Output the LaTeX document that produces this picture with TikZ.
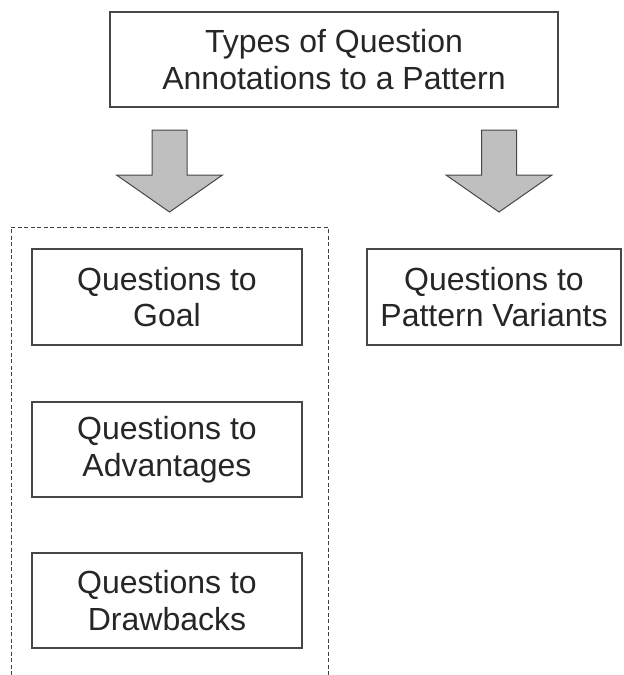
\documentclass[tikz,border=0pt]{standalone}
\usepackage{fontspec}
\setmainfont{Liberation Sans}
\begin{document}
\begin{tikzpicture}[x=1pt, y=-1pt]
  \tikzset{
  qbox/.style={draw=black!72, line width=1.1pt, fill=white, align=center,
    inner sep=0pt, text=black!85, font=\fontsize{32}{36.5}\selectfont},
  group_frame/.style={draw=black!75, line width=0.8pt, dash pattern=on 4pt off 2.5pt},
  down_arrow/.pic={
    % block arrow, tip at origin
    \filldraw[fill=black!25, draw=black!72, line width=1pt]
      (-17.5,-82) -- (17.5,-82) -- (17.5,-37) -- (53,-37)
      -- (0,0) -- (-53,-37) -- (-17.5,-37) -- cycle;

    % characteristic coordinates of arrow
    \coordinate (-tip) at (0,0);
    \coordinate (-top) at (0,-82);
  }
}
  \useasboundingbox (0,0) rectangle (624,675);

  % title
  \node[qbox, minimum width=448pt, minimum height=95pt] (types) at (334,59.5)
    {Types of Question\\Annotations to a Pattern};

  % arrows
  \pic (arr_left) at (169.5,212) {down_arrow};
  \pic (arr_right) at (499,212) {down_arrow};

  % group of questions
  \coordinate (frame_bl) at (11,675);
  \coordinate (frame_tr) at (328,227);
  \draw[group_frame] (frame_bl) |- (frame_tr) -- (frame_tr |- frame_bl);

  \node[qbox, minimum width=270pt, minimum height=96pt] (goal) at (167,297)
    {Questions to\\Goal};
  \node[qbox, minimum width=270pt, minimum height=95pt] (adv) at (167,449.5)
    {Questions to\\Advantages};
  \node[qbox, minimum width=270pt, minimum height=95pt] (drawb) at (167,600.5)
    {Questions to\\Drawbacks};

  % variants
  \node[qbox, minimum width=254pt, minimum height=96pt] (variants) at (494,297)
    {Questions to\\Pattern Variants};
\end{tikzpicture}
\end{document}
